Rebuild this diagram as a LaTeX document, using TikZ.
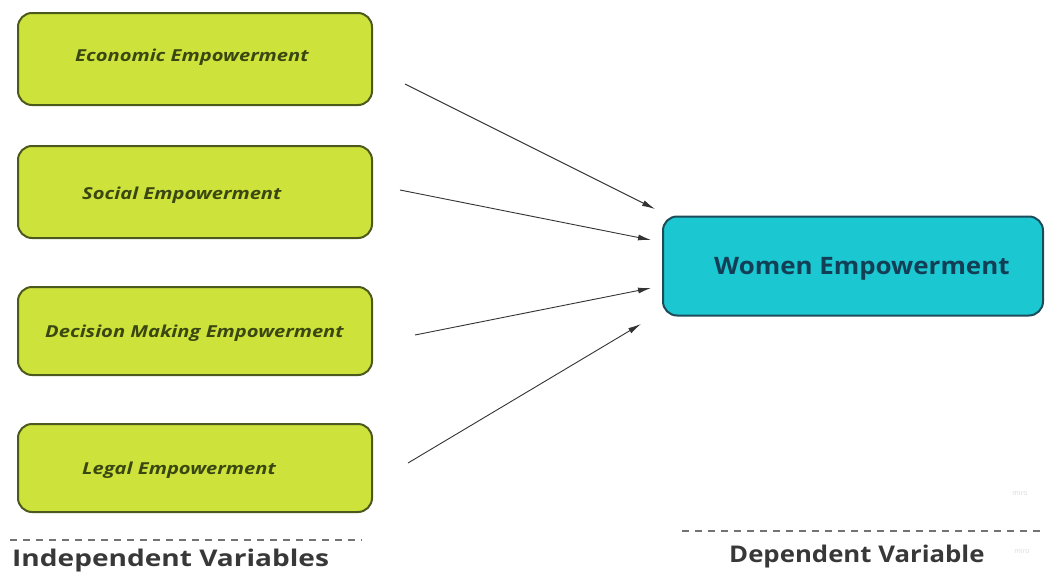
\documentclass[tikz,border=0pt]{standalone}
\usepackage{fontspec}
\setmainfont{Open Sans}
\usetikzlibrary{arrows.meta}
\definecolor{lime}{HTML}{CDE23A}
\definecolor{limeedge}{HTML}{4B5A1C}
\definecolor{limetext}{HTML}{3A4712}
\definecolor{cyanfill}{HTML}{1BC8D2}
\definecolor{cyanedge}{HTML}{1C4B5A}
\definecolor{cyantext}{HTML}{123F55}
\newcommand{\wide}[2]{\scalebox{#1}[1]{#2}}
\tikzset{
  ivbox/.style={draw=limeedge, line width=2pt, fill=lime, rounded corners=14pt,
    minimum width=354pt, minimum height=92pt, inner sep=0pt},
  ivtext/.style={text=limetext, font=\fontsize{16.5}{18}\selectfont\bfseries\itshape, anchor=base west, inner sep=0pt},
  dvbox/.style={draw=cyanedge, line width=2pt, fill=cyanfill, rounded corners=14pt,
    minimum width=380pt, minimum height=99pt, inner sep=0pt},
  dvtext/.style={text=cyantext, font=\fontsize{24}{26}\selectfont\bfseries, anchor=base west, inner sep=0pt},
  arr/.style={draw=black!80, line width=0.9pt, -{Latex[length=13pt,width=6pt]}},
  sep/.style={draw=black!55, line width=1.3pt, dash pattern=on 7pt off 6pt},
  captext/.style={font=\fontsize{23}{25}\selectfont\bfseries, text=black!78, inner sep=0pt, anchor=base west},
  wm/.style={font=\fontsize{7}{8}\selectfont, text=black!15, inner sep=0pt}
}
\begin{document}
\begin{tikzpicture}[x=1pt,y=-1pt]
\useasboundingbox (0,0) rectangle (1045,573);
\node[ivbox] (eco) at (195,59) {};
\node[ivtext] (ecot) at (75,61) {\wide{1.22}{Economic Empowerment}};
\node[ivbox] (soc) at (195,192) {};
\node[ivtext] (soct) at (82,199) {\wide{1.22}{Social Empowerment}};
\node[ivbox, minimum height=88pt] (dec) at (195,331) {};
\node[ivtext] (dect) at (45,337) {\wide{1.22}{Decision Making Empowerment}};
\node[ivbox, minimum height=88pt] (leg) at (195,468) {};
\node[ivtext] (legt) at (82,474) {\wide{1.22}{Legal Empowerment}};
\node[dvbox] (wom) at (853,266) {};
\node[dvtext] (womt) at (714,274) {\wide{1.08}{Women Empowerment}};
\coordinate (a1s) at (405,84);
\coordinate (a1e) at (655,209);
\coordinate (a2s) at (400,190);
\coordinate (a2e) at (651,240);
\coordinate (a3s) at (415,335);
\coordinate (a3e) at (651,288);
\coordinate (a4s) at (408,463);
\coordinate (a4e) at (641,324);
\draw[arr] (a1s) -- (a1e);
\draw[arr] (a2s) -- (a2e);
\draw[arr] (a3s) -- (a3e);
\draw[arr] (a4s) -- (a4e);
\coordinate (l1a) at (10,540);
\coordinate (l1b) at (362,540);
\draw[sep] (l1a) -- (l1b);
\coordinate (l2a) at (682,531);
\coordinate (l2b) at (1040,531);
\draw[sep] (l2a) -- (l2b);
\node[captext] (indep) at (12,566) {\wide{1.22}{Independent Variables}};
\node[captext] (dep) at (729,562) {\wide{1.12}{Dependent Variable}};
\node[wm] (wm1) at (1020,493) {miro};
\node[wm] (wm2) at (1022,551) {miro};
\end{tikzpicture}
\end{document}
